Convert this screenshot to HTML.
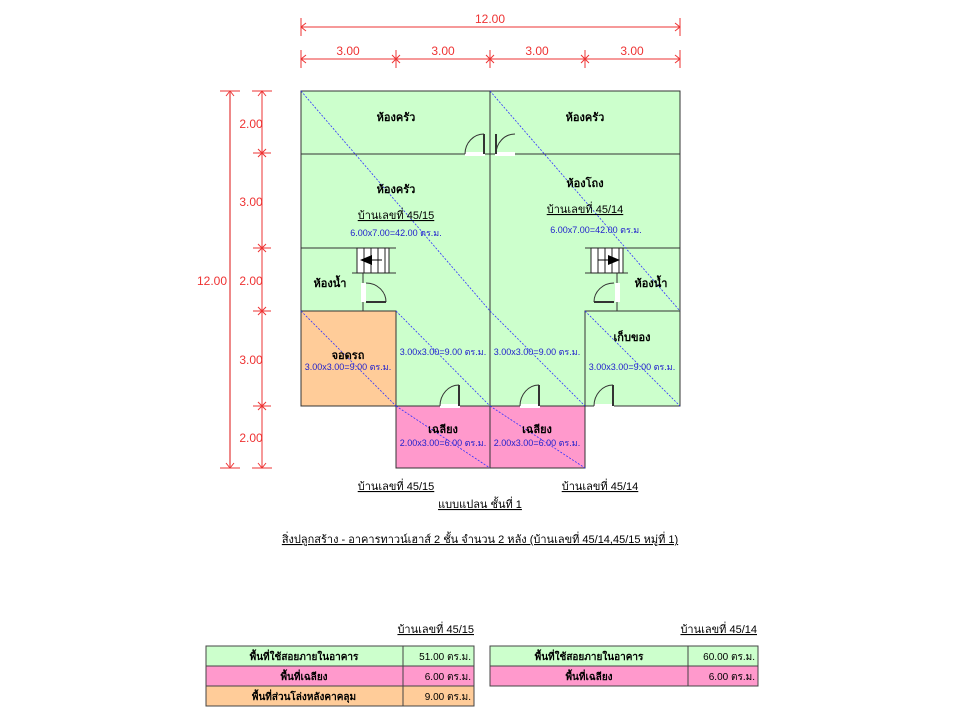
<!DOCTYPE html>
<html><head><meta charset="utf-8"><style>
html,body{margin:0;padding:0;background:#fff;}
svg{display:block;}
text{font-family:"Liberation Sans",sans-serif;}
</style></head><body>
<svg width="960" height="720" viewBox="0 0 960 720" xmlns="http://www.w3.org/2000/svg">
<g stroke="#e33" stroke-width="1" fill="none">
<line x1="301" y1="27" x2="680" y2="27"/>
<line x1="301" y1="18" x2="301" y2="36"/><line x1="680" y1="18" x2="680" y2="36"/>
<path d="M306 23 L301 27 L306 31 M675 23 L680 27 L675 31"/>
<line x1="301" y1="59" x2="680" y2="59"/>
<line x1="301" y1="50" x2="301" y2="68"/><line x1="396" y1="50" x2="396" y2="68"/><line x1="490" y1="50" x2="490" y2="68"/><line x1="585" y1="50" x2="585" y2="68"/><line x1="680" y1="50" x2="680" y2="68"/>
<path d="M306 55 L301 59 L306 63 M675 55 L680 59 L675 63"/>
<path d="M392 55 L400 63 M400 55 L392 63 M486 55 L494 63 M494 55 L486 63 M581 55 L589 63 M589 55 L581 63"/>
<line x1="230" y1="91" x2="230" y2="468" stroke="#e88" stroke-width="2"/>
<line x1="220" y1="91" x2="240" y2="91"/><line x1="220" y1="468" x2="240" y2="468"/>
<path d="M226 96 L230 91 L234 96 M226 463 L230 468 L234 463"/>
<line x1="262" y1="91" x2="262" y2="468"/>
<line x1="252" y1="91" x2="272" y2="91"/><line x1="252" y1="468" x2="272" y2="468"/>
<line x1="253" y1="153" x2="271" y2="153"/><line x1="253" y1="248" x2="271" y2="248"/><line x1="253" y1="311" x2="271" y2="311"/><line x1="253" y1="406" x2="271" y2="406"/>
<path d="M258 96 L262 91 L266 96 M258 463 L262 468 L266 463"/>
<path d="M258 149 L266 157 M266 149 L258 157 M258 244 L266 252 M266 244 L258 252 M258 307 L266 315 M266 307 L258 315 M258 402 L266 410 M266 402 L258 410"/>
</g>
<g fill="#e33" font-size="12" text-anchor="middle">
<text x="490" y="23">12.00</text>
<text x="348" y="55">3.00</text><text x="443" y="55">3.00</text><text x="537" y="55">3.00</text><text x="632" y="55">3.00</text>
<text x="212" y="285">12.00</text>
<text x="251" y="128">2.00</text><text x="251" y="206">3.00</text><text x="251" y="285">2.00</text><text x="251" y="364">3.00</text><text x="251" y="442">2.00</text>
</g>
<g stroke="#333" stroke-width="1">
<rect x="301" y="91" width="379" height="315" fill="#ccffcc"/>
<rect x="301" y="311" width="95" height="95" fill="#ffcc99"/>
<rect x="396" y="406" width="189" height="62" fill="#ff99cc"/>
<rect x="585" y="311" width="95" height="95" fill="none"/>
<line x1="490" y1="91" x2="490" y2="468"/>
<line x1="301" y1="154" x2="680" y2="154"/>
<line x1="301" y1="248" x2="396" y2="248"/>
<line x1="585" y1="248" x2="680" y2="248"/>
<line x1="352" y1="273" x2="396" y2="273"/>
<line x1="585" y1="273" x2="628" y2="273"/>
<line x1="363" y1="273" x2="363" y2="311"/>
<line x1="617" y1="273" x2="617" y2="311"/>
</g>
<g stroke="#33f" stroke-width="0.8" stroke-dasharray="2,1.5" fill="none">
<line x1="301" y1="91" x2="490" y2="311"/><line x1="490" y1="91" x2="680" y2="311"/>
<line x1="301" y1="311" x2="396" y2="406"/><line x1="396" y1="311" x2="490" y2="406"/>
<line x1="490" y1="311" x2="585" y2="406"/><line x1="585" y1="311" x2="680" y2="406"/>
<line x1="396" y1="406" x2="490" y2="468"/><line x1="490" y1="406" x2="585" y2="468"/>
</g>
<g stroke="#222" stroke-width="1" fill="#fff">
<rect x="357" y="248" width="32" height="25"/>
<path d="M364 248V273M371 248V273M378 248V273M385 248V273" fill="none"/>
<rect x="591" y="248" width="32" height="25"/>
<path d="M598 248V273M605 248V273M612 248V273M619 248V273" fill="none"/>
</g>
<path d="M360 260 L372 255 L372 265Z" fill="#000"/><line x1="372" y1="260" x2="382" y2="260" stroke="#000"/>
<path d="M620 260 L608 255 L608 265Z" fill="#000"/><line x1="598" y1="260" x2="608" y2="260" stroke="#000"/>
<g stroke="#333" stroke-width="1" fill="none">
<rect x="361" y="283" width="5" height="19" fill="#fff" stroke="none"/>
<path d="M366 283 A20 19 0 0 1 386 302"/><line x1="366" y1="302" x2="386" y2="302" stroke-width="2"/>
<rect x="615" y="283" width="5" height="19" fill="#fff" stroke="none"/>
<path d="M614 283 A20 19 0 0 0 594 302"/><line x1="594" y1="302" x2="614" y2="302" stroke-width="2"/>
<rect x="465" y="152" width="20" height="4" fill="#fff" stroke="none"/>
<path d="M465 154 A19 20 0 0 1 484 134"/><line x1="484" y1="134" x2="484" y2="154" stroke-width="2"/>
<rect x="495" y="152" width="20" height="4" fill="#fff" stroke="none"/>
<path d="M496 154 A19 20 0 0 1 515 134"/><line x1="496" y1="134" x2="496" y2="154" stroke-width="2"/>
<rect x="440" y="404" width="20" height="4" fill="#fff" stroke="none"/>
<path d="M440 406 A19 21 0 0 1 459 385"/><line x1="459" y1="385" x2="459" y2="406" stroke-width="2"/>
<rect x="520" y="404" width="20" height="4" fill="#fff" stroke="none"/>
<path d="M520 406 A19 21 0 0 1 539 385"/><line x1="539" y1="385" x2="539" y2="406" stroke-width="2"/>
<rect x="594" y="404" width="20" height="4" fill="#fff" stroke="none"/>
<path d="M594 406 A19 21 0 0 1 613 385"/><line x1="613" y1="385" x2="613" y2="406" stroke-width="2"/>
</g>
<g font-family="'Liberation Sans','Noto Sans CJK SC',sans-serif" font-size="11" fill="#000" text-anchor="middle">
<g font-weight="bold">
<text x="396" y="121">ห้องครัว</text><text x="585" y="121">ห้องครัว</text>
<text x="396" y="193">ห้องครัว</text><text x="585" y="187">ห้องโถง</text>
<text x="330" y="287">ห้องน้ำ</text><text x="651" y="287">ห้องน้ำ</text>
<text x="348" y="359">จอดรถ</text><text x="632" y="341">เก็บของ</text>
<text x="443" y="433">เฉลียง</text><text x="537" y="433">เฉลียง</text>
</g>
<text x="396" y="219" text-decoration="underline">บ้านเลขที่ 45/15</text>
<text x="585" y="213" text-decoration="underline">บ้านเลขที่ 45/14</text>
<text x="396" y="490" text-decoration="underline">บ้านเลขที่ 45/15</text>
<text x="600" y="490" text-decoration="underline">บ้านเลขที่ 45/14</text>
<text x="480" y="508" text-decoration="underline">แบบแปลน  ชั้นที่ 1</text>
<text x="480" y="543" text-decoration="underline">สิ่งปลูกสร้าง - อาคารทาวน์เฮาส์ 2 ชั้น จำนวน 2 หลัง (บ้านเลขที่ 45/14,45/15 หมู่ที่ 1)</text>
</g>
<g font-family="'Liberation Sans','Noto Sans CJK SC',sans-serif" font-size="9" fill="#22c" text-anchor="middle">
<text x="396" y="236">6.00x7.00=42.00 ตร.ม.</text><text x="596" y="233">6.00x7.00=42.00 ตร.ม.</text>
<text x="348" y="370">3.00x3.00=9.00 ตร.ม.</text>
<text x="443" y="355">3.00x3.00=9.00 ตร.ม.</text><text x="537" y="355">3.00x3.00=9.00 ตร.ม.</text>
<text x="632" y="370">3.00x3.00=9.00 ตร.ม.</text>
<text x="443" y="446">2.00x3.00=6.00 ตร.ม.</text><text x="537" y="446">2.00x3.00=6.00 ตร.ม.</text>
</g>
<g stroke="#444" stroke-width="1">
<rect x="206" y="646" width="197" height="20" fill="#ccffcc"/><rect x="403" y="646" width="71" height="20" fill="#ccffcc"/>
<rect x="206" y="666" width="197" height="20" fill="#ff99cc"/><rect x="403" y="666" width="71" height="20" fill="#ff99cc"/>
<rect x="206" y="686" width="197" height="20" fill="#ffcc99"/><rect x="403" y="686" width="71" height="20" fill="#ffcc99"/>
<rect x="490" y="646" width="198" height="20" fill="#ccffcc"/><rect x="688" y="646" width="70" height="20" fill="#ccffcc"/>
<rect x="490" y="666" width="198" height="20" fill="#ff99cc"/><rect x="688" y="666" width="70" height="20" fill="#ff99cc"/>
</g>
<g font-family="'Liberation Sans','Noto Sans CJK SC',sans-serif" font-size="10" fill="#000">
<text x="474" y="633" text-anchor="end" font-size="11" text-decoration="underline">บ้านเลขที่ 45/15</text>
<text x="757" y="633" text-anchor="end" font-size="11" text-decoration="underline">บ้านเลขที่ 45/14</text>
<g text-anchor="middle" font-weight="bold">
<text x="304" y="660">พื้นที่ใช้สอยภายในอาคาร</text><text x="304" y="680">พื้นที่เฉลียง</text><text x="304" y="700">พื้นที่ส่วนโล่งหลังคาคลุม</text>
<text x="589" y="660">พื้นที่ใช้สอยภายในอาคาร</text><text x="589" y="680">พื้นที่เฉลียง</text>
</g>
<g text-anchor="end">
<text x="471" y="660">51.00 ตร.ม.</text><text x="471" y="680">6.00 ตร.ม.</text><text x="471" y="700">9.00 ตร.ม.</text>
<text x="755" y="660">60.00 ตร.ม.</text><text x="755" y="680">6.00 ตร.ม.</text>
</g>
</g>
</svg>
</body></html>
